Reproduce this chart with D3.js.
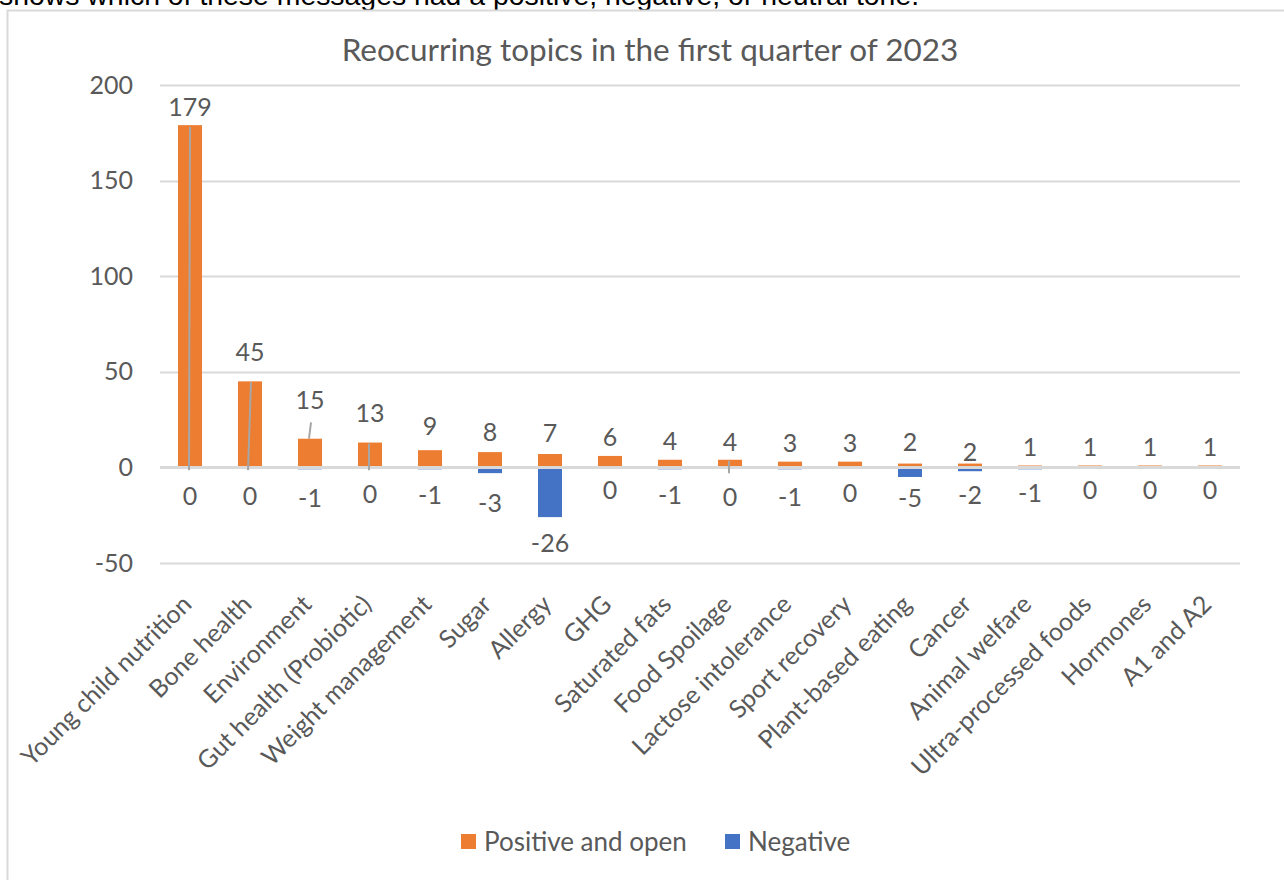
<!DOCTYPE html>
<html>
<head>
<meta charset="utf-8">
<script src="https://cdn.jsdelivr.net/npm/d3@7"></script>
<style>
  html, body { margin: 0; padding: 0; background: #fff; overflow: hidden; }
  svg { display: block; }
</style>
</head>
<body>
<svg id="chart" width="1284" height="880"></svg>
<script>
// ---- data ----
const categories = ["Young child nutrition", "Bone health", "Environment", "Gut health (Probiotic)",
  "Weight management", "Sugar", "Allergy", "GHG", "Saturated fats", "Food Spoilage",
  "Lactose intolerance", "Sport recovery", "Plant-based eating", "Cancer", "Animal welfare",
  "Ultra-processed foods", "Hormones", "A1 and A2"];
const positiveValues = [179, 45, 15, 13, 9, 8, 7, 6, 4, 4, 3, 3, 2, 2, 1, 1, 1, 1];
const negativeValues = [0, 0, -1, 0, -1, -3, -26, 0, -1, 0, -1, 0, -5, -2, -1, 0, 0, 0];
const seriesNames = ["Positive and open", "Negative"];
const yTicks = [-50, 0, 50, 100, 150, 200];
const titleText = "Reocurring topics in the first quarter of 2023";
const introText = "shows which of these messages had a positive, negative, or neutral tone.";

// ---- layout (label nudges, leader lines as drawn in the original) ----
const posLabelGap = [18, 29, 38, 29, 24, 20, 21, 19, 19, 18, 18, 18, 21, 11, 18, 18, 18, 18];
const negLabelGap = [29, 29, 29, 27, 26, 30, 26, 23, 26, 30, 28, 26, 21, 24, 24, 23, 23, 23];
const leaders = [
  {i: 0, from: 178, to: -1.5, dx0: 0, dx1: -1},
  {i: 1, from: 44.5, to: -1.5, dx0: 1, dx1: -2},
  {i: 2, from: 23.5, to: 15, dx0: 1, dx1: -1},
  {i: 3, from: 12.5, to: -1.5, dx0: -1, dx1: -1},
  {i: 9, from: 3.5, to: -3, dx0: -1, dx1: -1}
];

const colors = {pos: "#ED7D31", neg: "#4472C4", grid: "#D9D9D9", text: "#595959", leader: "#A6A6A6"};
const FONT = "Lato, 'Open Sans', sans-serif";

const svg = d3.select("#chart");

// intro text cut off at top
svg.append("text")
  .attr("x", -1).attr("y", 5)
  .attr("font-family", "'Liberation Sans', Arial, sans-serif")
  .attr("font-size", 28.4)
  .attr("fill", "#000")
  .text(introText);

// chart border
svg.append("rect")
  .attr("x", 7.5).attr("y", 10.5)
  .attr("width", 1400).attr("height", 1000)
  .attr("fill", "#fff")
  .attr("stroke", colors.grid).attr("stroke-width", 2);

// title
svg.append("text")
  .attr("x", 650).attr("y", 61)
  .attr("text-anchor", "middle")
  .attr("font-family", FONT).attr("font-size", 31.5)
  .attr("fill", colors.text)
  .text(titleText);

const x = d3.scaleBand().domain(categories).range([160, 1240]).paddingInner(0.6).paddingOuter(0.3);
const y = d3.scaleLinear().domain([-50, 200]).range([563, 85]);

// gridlines
svg.append("g").selectAll("line").data(yTicks.filter(d => d !== 0)).join("line")
  .attr("x1", 160).attr("x2", 1240)
  .attr("y1", d => Math.round(y(d)) + 0.5).attr("y2", d => Math.round(y(d)) + 0.5)
  .attr("stroke", colors.grid).attr("stroke-width", 2);

// y axis labels
const yAxis = d3.axisLeft(y).tickValues(yTicks).tickSize(0).tickPadding(0).tickFormat(d => String(d));
const yg = svg.append("g").attr("transform", "translate(133,0)").call(yAxis);
yg.select(".domain").remove();
yg.selectAll("text").attr("font-family", FONT).attr("font-size", 25).attr("fill", colors.text);

// bars
const bw = x.bandwidth();
svg.append("g").selectAll("rect").data(positiveValues).join("rect")
  .attr("x", (d, i) => x(categories[i]))
  .attr("y", d => y(d))
  .attr("width", bw)
  .attr("height", d => y(0) - y(d))
  .attr("fill", colors.pos);

svg.append("g").selectAll("rect").data(negativeValues).join("rect")
  .attr("x", (d, i) => x(categories[i]))
  .attr("y", d => y(0))
  .attr("width", bw)
  .attr("height", d => Math.max(0, y(d) - y(0)))
  .attr("fill", colors.neg);

// zero axis line on top
svg.append("line")
  .attr("x1", 160).attr("x2", 1240)
  .attr("y1", y(0) + 0.2).attr("y2", y(0) + 0.2)
  .attr("stroke", colors.grid).attr("stroke-width", 3);

// leader lines
svg.append("g").selectAll("line").data(leaders).join("line")
  .attr("x1", d => x(categories[d.i]) + bw / 2 + d.dx0)
  .attr("x2", d => x(categories[d.i]) + bw / 2 + d.dx1)
  .attr("y1", d => y(d.from)).attr("y2", d => y(d.to))
  .attr("stroke", colors.leader).attr("stroke-width", 2);

// data labels
svg.append("g").selectAll("text").data(positiveValues).join("text")
  .attr("x", (d, i) => x(categories[i]) + bw / 2)
  .attr("y", (d, i) => y(d) - posLabelGap[i])
  .attr("dy", "0.35em")
  .attr("text-anchor", "middle")
  .attr("font-family", FONT).attr("font-size", 25).attr("fill", colors.text)
  .text(d => d);

svg.append("g").selectAll("text").data(negativeValues).join("text")
  .attr("x", (d, i) => x(categories[i]) + bw / 2)
  .attr("y", (d, i) => y(d) + negLabelGap[i])
  .attr("dy", "0.35em")
  .attr("text-anchor", "middle")
  .attr("font-family", FONT).attr("font-size", 25).attr("fill", colors.text)
  .text(d => String(d));

// category labels
svg.append("g").selectAll("text").data(categories).join("text")
  .attr("transform", d => `translate(${x(d) + bw / 2 + 3},${606}) rotate(-45)`)
  .attr("text-anchor", "end")
  .attr("font-family", FONT).attr("font-size", 25).attr("fill", colors.text)
  .text(d => d);

// legend
const legend = svg.append("g");
const legendItems = [
  {name: seriesNames[0], color: colors.pos, x: 461},
  {name: seriesNames[1], color: colors.neg, x: 725}
];
legend.selectAll("rect").data(legendItems).join("rect")
  .attr("x", d => d.x).attr("y", 834).attr("width", 15).attr("height", 15)
  .attr("fill", d => d.color);
legend.selectAll("text").data(legendItems).join("text")
  .attr("x", d => d.x + 23).attr("y", 842).attr("dy", "0.35em")
  .attr("font-family", FONT).attr("font-size", 26).attr("fill", colors.text)
  .text(d => d.name);
</script>
</body>
</html>
